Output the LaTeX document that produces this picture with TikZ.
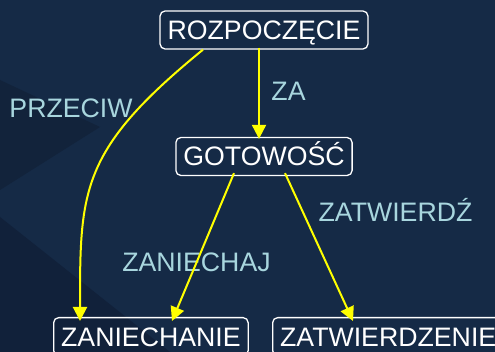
\documentclass[tikz,border=0pt]{standalone}
\usepackage{fontspec}
\setmainfont{Liberation Sans}
\usetikzlibrary{arrows.meta}
\definecolor{bgblue}{HTML}{152A46}
\definecolor{bgdark}{HTML}{12233B}
\definecolor{bgdarker}{HTML}{11213A}
\definecolor{lbl}{HTML}{A8D6DE}
\definecolor{arr}{HTML}{FFFF00}
\tikzset{
  statebox/.style={draw=white, line width=1.3pt, rounded corners=5pt, text=white,
    font=\fontsize{26.7}{32}\selectfont, text height=19pt, text depth=0pt,
    inner xsep=7.5pt, inner ysep=9.5pt},
  edgelabel/.style={text=lbl, font=\fontsize{26.7}{32}\selectfont,
    text height=19pt, text depth=0pt, inner sep=0pt},
  trans/.style={draw=arr, line width=2pt, -{Triangle[width=14pt,length=14pt]}}
}
\begin{document}
\begin{tikzpicture}[x=1pt,y=-1pt]
\useasboundingbox (0,0) rectangle (495,352);
\fill[bgblue] (0,0) rectangle (495,352);
\fill[bgdark] (0,80) -- (100,127) -- (0,190) -- cycle;
\fill[bgdarker] (0,217) -- (170,352) -- (0,352) -- cycle;

\node[statebox] (r) at (264,30) {ROZPOCZĘCIE};
\node[statebox] (g) at (264,156.5) {GOTOWOŚĆ};
\node[statebox, anchor=north west] (zn) at (53,317) {ZANIECHANIE};
\node[statebox, anchor=north west] (zt) at (272,317) {ZATWIERDZENIE};

\node[edgelabel] (lprz) at (71,108.5) {PRZECIW};
\node[edgelabel] (lza) at (288.5,91.5) {ZA};
\node[edgelabel] (lzat) at (395.5,212) {ZATWIERDŹ};
\node[edgelabel] (lzan) at (196.5,262) {ZANIECHAJ};

\draw[trans] ([xshift=-5pt,yshift=2pt]r.south) -- ([xshift=-5pt,yshift=-2pt]g.north);
\draw[trans] ([xshift=-61pt]r.south) .. controls (80,150) and (80,190) .. ([xshift=27pt,yshift=-4pt]zn.north west);
\draw[trans] ([xshift=-30pt,yshift=3pt]g.south) -- ([xshift=119pt,yshift=-4pt]zn.north west);
\draw[trans] ([xshift=21pt,yshift=3pt]g.south) -- ([xshift=81pt,yshift=-4pt]zt.north west);
\end{tikzpicture}
\end{document}
